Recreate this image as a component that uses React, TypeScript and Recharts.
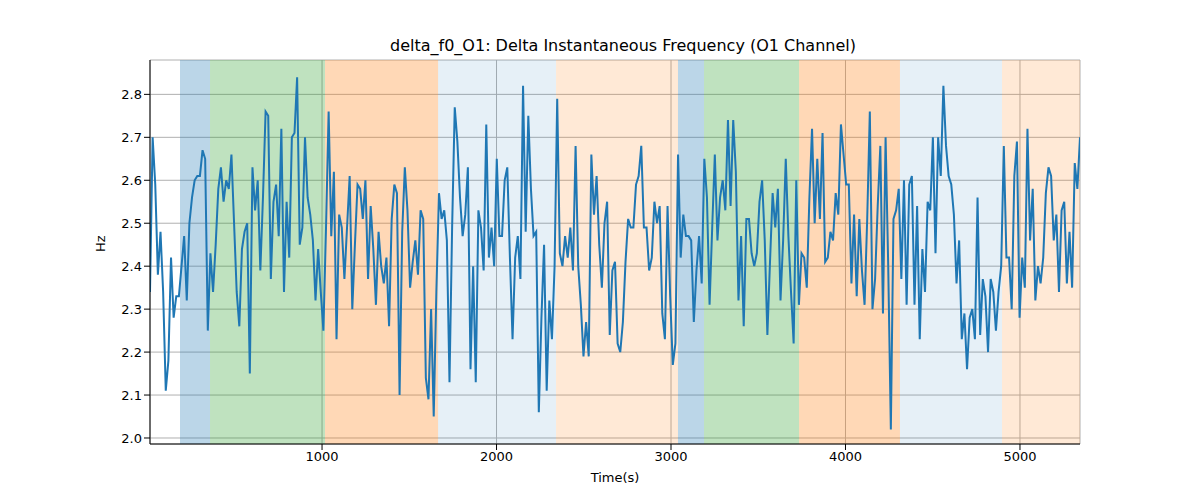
import React from 'react';
import {
  LineChart,
  Line,
  XAxis,
  YAxis,
  CartesianGrid,
  ReferenceArea,
} from 'recharts';

const deltaF0 = [
  2.34, 2.70, 2.59, 2.38, 2.48, 2.34, 2.11, 2.18, 2.42, 2.28, 2.33, 2.33, 2.40, 2.47, 2.32, 2.50, 2.56, 2.60, 2.61, 2.61,
  2.67, 2.65, 2.25, 2.43, 2.34, 2.45, 2.58, 2.63, 2.55, 2.60, 2.58, 2.66, 2.50, 2.34, 2.26, 2.44, 2.48, 2.50, 2.15, 2.63,
  2.53, 2.60, 2.39, 2.56, 2.76, 2.75, 2.37, 2.55, 2.59, 2.47, 2.72, 2.34, 2.55, 2.42, 2.70, 2.71, 2.84, 2.45, 2.49, 2.70,
  2.56, 2.52, 2.46, 2.32, 2.44, 2.34, 2.25, 2.49, 2.76, 2.47, 2.62, 2.23, 2.52, 2.49, 2.37, 2.49, 2.61, 2.30, 2.45, 2.59,
  2.58, 2.51, 2.60, 2.37, 2.54, 2.44, 2.31, 2.48, 2.40, 2.36, 2.42, 2.26, 2.51, 2.59, 2.57, 2.10, 2.48, 2.63, 2.53, 2.35,
  2.41, 2.46, 2.38, 2.53, 2.51, 2.14, 2.09, 2.30, 2.05, 2.34, 2.57, 2.51, 2.53, 2.46, 2.13, 2.49, 2.77, 2.69, 2.56, 2.47,
  2.52, 2.63, 2.16, 2.40, 2.13, 2.53, 2.49, 2.39, 2.73, 2.42, 2.49, 2.40, 2.65, 2.47, 2.47, 2.60, 2.63, 2.42, 2.23, 2.42,
  2.47, 2.37, 2.82, 2.48, 2.75, 2.58, 2.47, 2.48, 2.06, 2.28, 2.45, 2.11, 2.32, 2.23, 2.40, 2.79, 2.43, 2.40, 2.47, 2.42,
  2.49, 2.39, 2.68, 2.40, 2.31, 2.19, 2.27, 2.19, 2.66, 2.52, 2.61, 2.45, 2.35, 2.50, 2.55, 2.24, 2.39, 2.41, 2.22,
  2.20, 2.27, 2.41, 2.51, 2.49, 2.49, 2.59, 2.61, 2.68, 2.49, 2.49, 2.39, 2.42, 2.55, 2.50, 2.54, 2.29, 2.23, 2.54, 2.33,
  2.17, 2.22, 2.66, 2.42, 2.52, 2.47, 2.47, 2.46, 2.27, 2.39, 2.47, 2.36, 2.65, 2.56, 2.31, 2.49, 2.66, 2.46, 2.56, 2.60,
  2.53, 2.74, 2.54, 2.74, 2.62, 2.32, 2.47, 2.26, 2.51, 2.51, 2.43, 2.40, 2.43, 2.55, 2.60, 2.46, 2.24, 2.41, 2.57,
  2.49, 2.58, 2.32, 2.46, 2.65, 2.47, 2.34, 2.22, 2.60, 2.31, 2.43, 2.42, 2.35, 2.56, 2.72, 2.50, 2.65, 2.51, 2.71, 2.41,
  2.42, 2.48, 2.46, 2.57, 2.52, 2.73, 2.66, 2.59, 2.59, 2.36, 2.52, 2.33, 2.51, 2.39, 2.31, 2.51, 2.76, 2.30, 2.37, 2.54,
  2.68, 2.29, 2.70, 2.40, 2.02, 2.51, 2.53, 2.58, 2.37, 2.60, 2.31, 2.59, 2.61, 2.31, 2.54, 2.23, 2.44, 2.34, 2.55,
  2.53, 2.70, 2.43, 2.70, 2.61, 2.82, 2.68, 2.61, 2.59, 2.52, 2.36, 2.46, 2.23, 2.29, 2.16, 2.28, 2.30, 2.23, 2.56, 2.24,
  2.37, 2.33, 2.20, 2.37, 2.34, 2.25, 2.34, 2.40, 2.68, 2.42, 2.42, 2.30, 2.61, 2.69, 2.28, 2.42, 2.35, 2.72, 2.46, 2.58,
  2.32, 2.40, 2.36, 2.42, 2.57, 2.63, 2.61, 2.46, 2.52, 2.34, 2.53, 2.55, 2.36, 2.48, 2.35, 2.64, 2.58, 2.70,
];

const tStart = 14;
const tEnd = 5344;

// segments: [start, end, colour, opacity]
const segStarts = [186, 358, 1017, 1665, 2341, 3040, 3189, 3734, 4312, 4897];
const segEnds = [358, 1017, 1665, 2341, 3040, 3189, 3734, 4312, 4897, 5344];
const segColors = ['#1f77b4', '#2ca02c', '#ff7f0e', '#1f77b4', '#ff7f0e', '#1f77b4', '#2ca02c', '#ff7f0e', '#1f77b4', '#ff7f0e'];
const segOpacity = [0.3, 0.3, 0.3, 0.11, 0.17, 0.3, 0.3, 0.3, 0.11, 0.17];

const xTicks = [1000, 2000, 3000, 4000, 5000];
const yTicks = [2.0, 2.1, 2.2, 2.3, 2.4, 2.5, 2.6, 2.7, 2.8];

const step = (tEnd - tStart) / (deltaF0.length - 1);
const data = deltaF0.map((v, i) => ({ t: tStart + i * step, v }));

const tick = { fill: '#000', fontSize: 13 };

export default function App() {
  return (
    <div style={{ position: 'relative', width: 1200, height: 500, fontFamily: 'DejaVu Sans' }}>
      <div style={{ position: 'absolute', top: 28, left: 0, width: 1230, textAlign: 'center', fontSize: 16 }}>
        delta_f0_O1: Delta Instantaneous Frequency (O1 Channel)
      </div>
      <LineChart width={1200} height={500} data={data} margin={{ top: 52, right: 128, bottom: 34, left: 0 }}>
        <CartesianGrid stroke="#b0b0b0" strokeWidth={1} />
        {segStarts.map((s, i) => (
          <ReferenceArea key={i} x1={s} x2={segEnds[i]} fill={segColors[i]} fillOpacity={segOpacity[i]} stroke="none" />
        ))}
        <XAxis
          dataKey="t"
          type="number"
          domain={[tStart, tEnd]}
          ticks={xTicks}
          tick={tick}
          stroke="#000"
          height={30}
          allowDataOverflow
          label={{ value: 'Time(s)', position: 'insideBottom', offset: -8, fill: '#000', fontSize: 13 }}
        />
        <XAxis xAxisId="top" orientation="top" dataKey="t" type="number" domain={[tStart, tEnd]} tick={false} tickLine={false} stroke="#000" height={0} allowDataOverflow />
        <YAxis
          type="number"
          domain={[1.986, 2.88]}
          ticks={yTicks}
          tickFormatter={(v: number) => v.toFixed(1)}
          tick={tick}
          stroke="#000"
          width={142}
          allowDataOverflow
          label={{ value: 'Hz', angle: -90, position: 'insideLeft', offset: 92, fill: '#000', fontSize: 13 }}
        />
        <YAxis yAxisId="right" orientation="right" type="number" domain={[1.986, 2.88]} tick={false} tickLine={false} stroke="#000" width={0} allowDataOverflow />
        <Line type="linear" dataKey="v" stroke="#1f77b4" strokeWidth={2} dot={false} isAnimationActive={false} />
      </LineChart>
    </div>
  );
}
